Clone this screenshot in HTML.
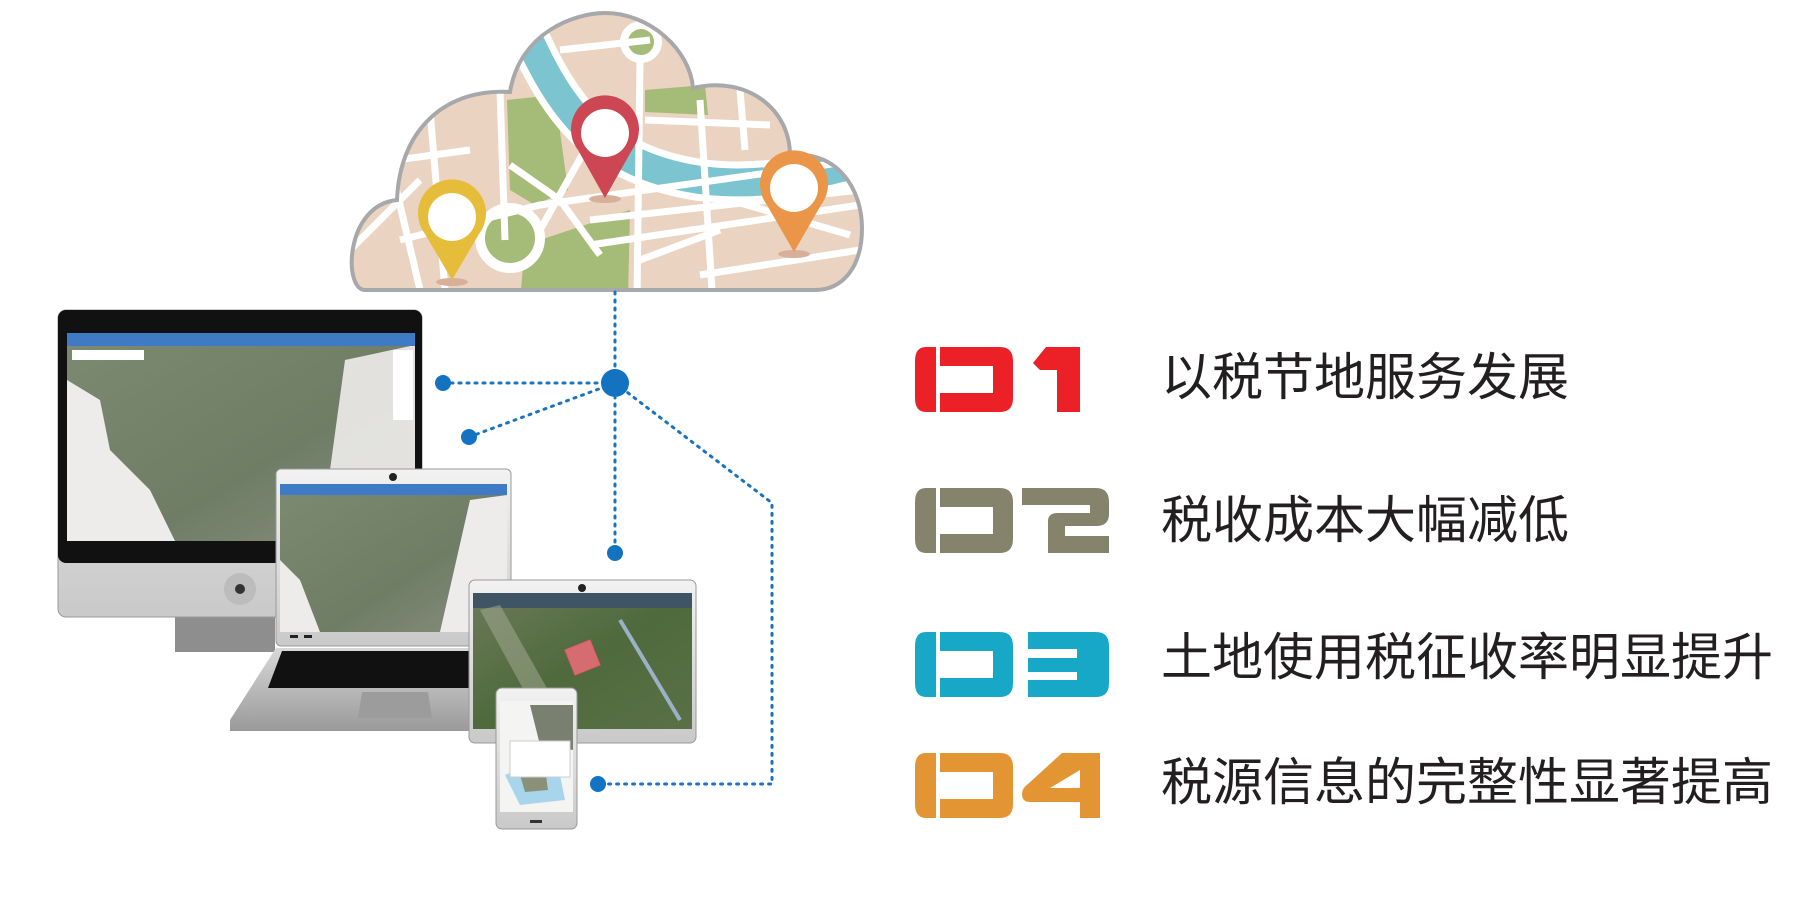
<!DOCTYPE html>
<html><head><meta charset="utf-8">
<style>
html,body{margin:0;padding:0;background:#fff;}
body{width:1804px;height:898px;position:relative;overflow:hidden;font-family:"Liberation Sans","Noto Sans CJK SC",sans-serif;}
.t{position:absolute;left:1161px;font-size:51px;color:#231f20;line-height:1;white-space:nowrap;font-family:"Liberation Sans","Noto Sans CJK SC",sans-serif;}
</style></head><body>
<svg width="1804" height="898" style="position:absolute;left:0;top:0">
<defs>
<clipPath id="cl"><path d="M365,290 C343,290 345,205 397,200 C400,125 450,88 510,92 C520,32 575,13 605,13 C650,13 690,50 693,88 C748,75 790,110 790,155 C838,150 862,190 862,228 C862,268 842,290 815,290 Z"/></clipPath>
<linearGradient id="sil" x1="0" y1="0" x2="0" y2="1"><stop offset="0" stop-color="#f2f2f2"/><stop offset="1" stop-color="#c9c9c9"/></linearGradient>
<linearGradient id="base" x1="0" y1="0" x2="0" y2="1"><stop offset="0" stop-color="#d8d8d8"/><stop offset="1" stop-color="#9a9a9a"/></linearGradient>
<linearGradient id="map" x1="0" y1="0" x2="1" y2="1"><stop offset="0" stop-color="#7c8a70"/><stop offset="0.6" stop-color="#6f7d66"/><stop offset="1" stop-color="#8a8f80"/></linearGradient>
<linearGradient id="sat" x1="0" y1="0" x2="1" y2="1"><stop offset="0" stop-color="#6b7a5a"/><stop offset="0.5" stop-color="#4f6a3c"/><stop offset="1" stop-color="#5a7046"/></linearGradient>
</defs>
<g clip-path="url(#cl)">
<rect x="340" y="0" width="540" height="300" fill="#ebd3c1"/>
<path d="M507,100 L555,95 L568,190 L535,205 L510,190 Z" fill="#a5bb78"/>
<path d="M645,90 L705,85 L708,115 L645,112 Z" fill="#a5bb78"/>
<circle cx="641" cy="42" r="17" fill="#a5bb78" stroke="#fff" stroke-width="8"/>
<path d="M525,245 L630,210 L628,300 L520,300 Z" fill="#a5bb78"/>
<circle cx="510" cy="238" r="30" fill="#a5bb78" stroke="#fff" stroke-width="10"/>
<path d="M525,30 C560,110 600,165 700,180 C760,188 820,175 870,160" fill="none" stroke="#fff" stroke-width="42"/>
<path d="M525,30 C560,110 600,165 700,180 C760,188 820,175 870,160" fill="none" stroke="#7cc4cf" stroke-width="28"/>
<g stroke="#fff" stroke-width="7" fill="none">
<path d="M380,120 L420,290"/><path d="M430,110 L445,290"/><path d="M360,165 L470,150"/>
<path d="M500,90 L505,240"/><path d="M510,165 L560,200 L600,255"/><path d="M585,150 L540,230"/>
<path d="M400,240 L540,205 L860,160"/><path d="M640,60 L637,300"/><path d="M700,100 L712,290"/>
<path d="M645,120 L770,125"/><path d="M740,90 L745,150"/><path d="M590,220 L860,190"/>
<path d="M590,245 L860,205"/><path d="M730,200 L850,235"/><path d="M700,275 L860,250"/>
<path d="M560,50 L650,40"/><path d="M350,250 L420,180"/><path d="M640,260 L720,230"/>
</g>
</g>
<path d="M365,290 C343,290 345,205 397,200 C400,125 450,88 510,92 C520,32 575,13 605,13 C650,13 690,50 693,88 C748,75 790,110 790,155 C838,150 862,190 862,228 C862,268 842,290 815,290 Z" fill="none" stroke="#a7a8ab" stroke-width="4"/>
<ellipse cx="605" cy="199" rx="16" ry="4" fill="#d8b09a"/>
<path d="M605,198 L578,150 A34,34 0 1 1 632,150 Z" fill="#cc4753"/>
<circle cx="605" cy="133" r="24" fill="#fff"/>
<ellipse cx="452" cy="282" rx="16" ry="4" fill="#d8b09a"/>
<path d="M452,280 L425,234 A34,34 0 1 1 479,234 Z" fill="#e6bd3a"/>
<circle cx="452" cy="217" r="24" fill="#fff"/>
<ellipse cx="794" cy="254" rx="16" ry="4" fill="#d8b09a"/>
<path d="M794,252 L767,205 A34,34 0 1 1 821,205 Z" fill="#eb9548"/>
<circle cx="794" cy="188" r="24" fill="#fff"/>
<g stroke="#1a73bf" stroke-width="3" stroke-dasharray="2 6" stroke-linecap="round" fill="none">
<path d="M615,292 L615,553"/><path d="M443,383 L615,383"/><path d="M469,437 L615,383"/>
<path d="M615,383 L772,503 L772,784 L598,784"/>
</g>
<g fill="#1373c0">
<circle cx="615" cy="383" r="14"/><circle cx="443" cy="383" r="8"/><circle cx="469" cy="437" r="8"/>
<circle cx="615" cy="553" r="8"/><circle cx="598" cy="784" r="8"/>
</g>
<!-- monitor -->
<rect x="175" y="612" width="100" height="40" fill="#8e8e8e"/>
<rect x="58" y="310" width="364" height="307" rx="8" fill="url(#sil)" stroke="#9a9a9a"/>
<rect x="58" y="310" width="364" height="253" rx="8" fill="#111"/>
<rect x="67" y="333" width="348" height="208" fill="url(#map)"/>
<path d="M67,380 L100,400 L110,450 L150,490 L175,541 L67,541 Z" fill="#eeeceb"/>
<path d="M345,360 L415,345 L415,541 L300,541 L330,470 Z" fill="#eeeceb" opacity="0.9"/>
<rect x="67" y="333" width="348" height="13" fill="#3e7bc4"/>
<rect x="72" y="350" width="72" height="10" fill="#fff"/>
<rect x="393" y="350" width="20" height="70" fill="#fff"/>
<circle cx="240" cy="589" r="16" fill="#bcbcbc"/><circle cx="240" cy="589" r="5" fill="#333"/>
<!-- laptop -->
<path d="M276,648 L511,648 L560,720 L560,731 L230,731 L230,720 Z" fill="url(#base)"/>
<path d="M282,651 L505,651 L520,688 L268,688 Z" fill="#111"/>
<path d="M362,692 L428,692 L432,718 L358,718 Z" fill="#9c9c9c"/>
<rect x="276" y="469" width="235" height="177" rx="5" fill="url(#sil)" stroke="#999"/>
<rect x="280" y="484" width="227" height="148" fill="url(#map)"/>
<path d="M280,560 L300,580 L320,632 L280,632 Z" fill="#eeeceb"/>
<path d="M470,500 L507,495 L507,632 L440,632 Z" fill="#eeeceb"/>
<rect x="280" y="484" width="227" height="11" fill="#3e7bc4"/>
<circle cx="393" cy="477" r="4" fill="#222"/>
<rect x="290" y="635" width="8" height="3" fill="#222"/><rect x="304" y="635" width="8" height="3" fill="#222"/>
<!-- tablet -->
<rect x="469" y="580" width="227" height="163" rx="6" fill="url(#sil)" stroke="#999"/>
<rect x="473" y="593" width="219" height="136" fill="url(#sat)"/>
<rect x="473" y="593" width="219" height="15" fill="#3f5566"/>
<path d="M480,610 L500,605 L570,729 L545,729 Z" fill="#a7ad98" opacity="0.5"/>
<path d="M565,650 L590,640 L600,665 L575,675 Z" fill="#d56c72" stroke="#e65c62"/>
<path d="M620,620 L680,720" stroke="#9ab1c8" stroke-width="4"/>
<circle cx="582" cy="588" r="4" fill="#222"/>
<!-- phone -->
<rect x="496" y="688" width="81" height="141" rx="6" fill="url(#sil)" stroke="#999"/>
<rect x="500" y="701" width="73" height="111" fill="#f4f4f2"/>
<path d="M530,705 L573,705 L573,750 L540,745 Z" fill="#7a8070"/>
<path d="M505,775 L530,765 L560,775 L565,800 L520,805 Z" fill="#a8d4ec"/>
<path d="M520,775 L545,768 L548,790 L525,792 Z" fill="#8a9178"/>
<rect x="510" y="741" width="60" height="36" fill="#fff" stroke="#ccc"/>
<rect x="530" y="820" width="12" height="3" fill="#333"/>
<!-- badge zeros: symbol -->
<g id="z1" fill="#ec2027">
<path d="M926,347 L936,347 L936,412 L926,412 Q915,412 915,398 L915,361 Q915,347 926,347 Z"/>
<path d="M940,347 L1000,347 Q1013,347 1013,361 L1013,398 Q1013,412 1000,412 L940,412 L940,393 L993,393 L993,366 L940,366 Z"/>
<path d="M1057,347 L1080,347 L1080,412 L1057,412 L1057,370 L1040,370 L1033,363 L1046,347 Z"/>
</g>
<g fill="#86836d">
<path d="M926,488 L936,488 L936,553 L926,553 Q915,553 915,539 L915,502 Q915,488 926,488 Z"/>
<path d="M940,488 L1000,488 Q1013,488 1013,502 L1013,539 Q1013,553 1000,553 L940,553 L940,534 L993,534 L993,507 L940,507 Z"/>
<path d="M1022,488 L1096,488 Q1109,488 1109,502 L1109,514 Q1109,526 1096,526 L1065,526 L1065,536 L1109,536 L1109,553 L1048,553 L1048,521 Q1048,513 1058,513 L1090,513 L1090,505 L1022,505 Z"/>
</g>
<g fill="#17a8c8">
<path d="M926,632 L936,632 L936,697 L926,697 Q915,697 915,683 L915,646 Q915,632 926,632 Z"/>
<path d="M940,632 L1000,632 Q1013,632 1013,646 L1013,683 Q1013,697 1000,697 L940,697 L940,678 L993,678 L993,651 L940,651 Z"/>
<path d="M1028,632 L1096,632 Q1109,632 1109,646 L1109,683 Q1109,697 1096,697 L1028,697 L1028,680 L1077,680 L1077,672 L1028,672 L1028,658 L1077,658 L1077,649 L1028,649 Z"/>
</g>
<g fill="#e39533">
<path d="M926,753 L936,753 L936,818 L926,818 Q915,818 915,804 L915,767 Q915,753 926,753 Z"/>
<path d="M940,753 L1000,753 Q1013,753 1013,767 L1013,804 Q1013,818 1000,818 L940,818 L940,799 L993,799 L993,772 L940,772 Z"/>
<path d="M1062,753 L1100,753 L1100,818 L1080,818 L1080,802 L1030,802 Q1022,802 1022,794 Q1022,788 1028,784 Z M1080,770 L1050,788 L1080,788 Z" fill-rule="evenodd"/>
</g>
</svg>
<div class="t" style="top:352px">以税节地服务发展</div>
<div class="t" style="top:495px">税收成本大幅减低</div>
<div class="t" style="top:632px">土地使用税征收率明显提升</div>
<div class="t" style="top:757px">税源信息的完整性显著提高</div>
</body></html>
